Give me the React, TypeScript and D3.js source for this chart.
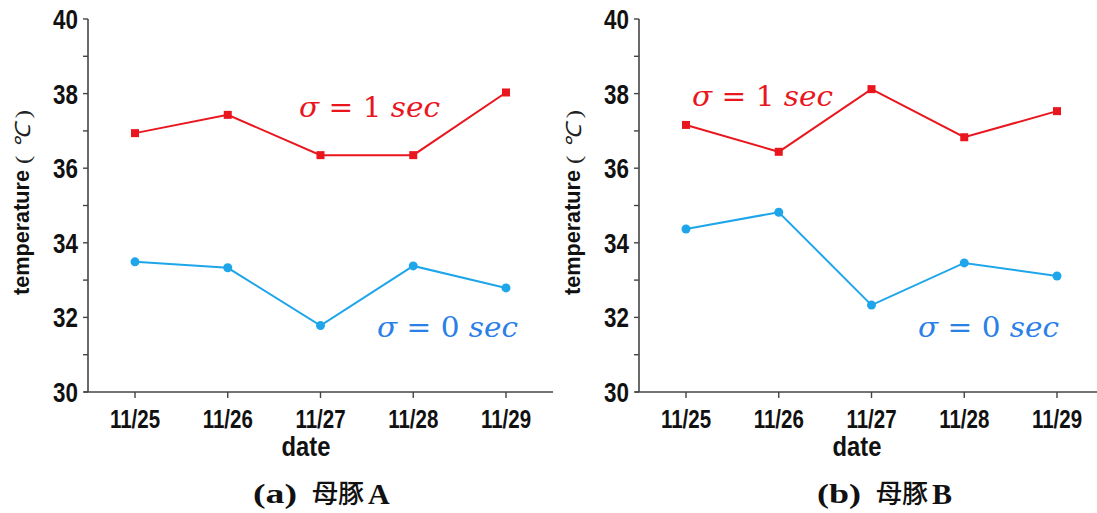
import { useEffect, useRef } from 'react';
import * as d3 from 'd3';

const dates = ['11/25', '11/26', '11/27', '11/28', '11/29'];
const yTicks = [30, 31, 32, 33, 34, 35, 36, 37, 38, 39, 40];

// 母豚 A
const sowA_sigma1 = [36.94, 37.43, 36.35, 36.35, 38.03];
const sowA_sigma0 = [33.49, 33.33, 31.78, 33.38, 32.79];
// 母豚 B
const sowB_sigma1 = [37.16, 36.44, 38.12, 36.83, 37.53];
const sowB_sigma0 = [34.37, 34.82, 32.33, 33.46, 33.11];

const captionTags = ['(a)', '(b)'];
const captionNames = ['母豚', '母豚'];
const captionLetters = ['A', 'B'];

const RED = '#e9161e';
const BLUE_LINE = '#1ea5ea';
const BLUE_TEXT = '#2b80e8';
const SANS = '"Liberation Sans", Arial, sans-serif';
const SERIF = '"Liberation Serif", "Times New Roman", serif';

function App() {
    const svgRef = useRef<SVGSVGElement>(null);

    useEffect(() => {
        if (!svgRef.current) return;
        const svg = d3.select(svgRef.current);
        svg.selectAll('*').remove();

        const panels = [
            { dx: 0, red: sowA_sigma1, blue: sowA_sigma0, redPos: [299, 117], bluePos: [377, 337], capX: 253, axisEnd: 553 },
            { dx: 551, red: sowB_sigma1, blue: sowB_sigma0, redPos: [141, 106], bluePos: [367, 337], capX: 266, axisEnd: 546 },
        ];

        const x = d3.scalePoint().domain(dates).range([135, 506]);
        const y = d3.scaleLinear().domain([30, 40]).range([392, 19]);
        const axisX = 88;

        panels.forEach((p, i) => {
            const g = svg.append('g').attr('transform', `translate(${p.dx},0)`);

            // y axis
            g.append('line')
                .attr('x1', axisX).attr('x2', axisX)
                .attr('y1', y(40)).attr('y2', y(30))
                .attr('stroke', '#444').attr('stroke-width', 1.6);
            g.selectAll('.ytick').data(yTicks).enter().append('line')
                .attr('x1', axisX - 5).attr('x2', axisX)
                .attr('y1', d => y(d)).attr('y2', d => y(d))
                .attr('stroke', '#444').attr('stroke-width', 1.4);
            g.selectAll('.ylab').data(yTicks.filter(d => d % 2 === 0)).enter().append('text')
                .attr('transform', d => `translate(${axisX - 10},${y(d) + 10}) scale(0.8,1)`)
                .attr('text-anchor', 'end')
                .attr('font-family', SANS)
                .attr('font-weight', 'bold')
                .attr('font-size', 28)
                .attr('fill', '#111')
                .text(d => d);

            // x axis
            g.append('line')
                .attr('x1', axisX - 4).attr('x2', p.axisEnd)
                .attr('y1', y(30)).attr('y2', y(30))
                .attr('stroke', '#444').attr('stroke-width', 1.6);
            g.selectAll('.xtick').data(dates).enter().append('line')
                .attr('x1', d => x(d)!).attr('x2', d => x(d)!)
                .attr('y1', y(30)).attr('y2', y(30) + 6)
                .attr('stroke', '#444').attr('stroke-width', 1.4);
            g.selectAll('.xlab').data(dates).enter().append('text')
                .attr('transform', d => `translate(${x(d)},428) scale(0.82,1)`)
                .attr('text-anchor', 'middle')
                .attr('font-family', SANS)
                .attr('font-weight', 'bold')
                .attr('font-size', 25)
                .attr('fill', '#111')
                .text(d => d);

            g.append('text')
                .attr('transform', 'translate(306,456) scale(0.88,1)')
                .attr('text-anchor', 'middle')
                .attr('font-family', SANS)
                .attr('font-weight', 'bold')
                .attr('font-size', 27)
                .attr('fill', '#111')
                .text('date');

            // y label
            g.append('text')
                .attr('transform', 'translate(29,295) rotate(-90)')
                .attr('font-family', SANS)
                .attr('font-weight', 'bold')
                .attr('font-size', 22)
                .attr('textLength', 125)
                .attr('lengthAdjust', 'spacingAndGlyphs')
                .attr('fill', '#111')
                .text('temperature');
            const unit = g.append('text')
                .attr('transform', 'translate(30,164) rotate(-90)')
                .attr('font-family', SERIF)
                .attr('font-size', 21)
                .attr('fill', '#222')
                .attr('textLength', 54)
                .attr('lengthAdjust', 'spacingAndGlyphs');
            unit.append('tspan').text('( ');
            unit.append('tspan').attr('font-style', 'italic').text('℃');
            unit.append('tspan').text(' )');

            // lines
            const line = d3.line<number>()
                .x((_, j) => x(dates[j])!)
                .y(d => y(d));

            g.append('path')
                .attr('d', line(p.red))
                .attr('fill', 'none')
                .attr('stroke', RED)
                .attr('stroke-width', 2);
            g.selectAll('.redpt').data(p.red).enter().append('rect')
                .attr('x', (_, j) => x(dates[j])! - 4)
                .attr('y', d => y(d) - 4)
                .attr('width', 8).attr('height', 8)
                .attr('fill', RED);

            g.append('path')
                .attr('d', line(p.blue))
                .attr('fill', 'none')
                .attr('stroke', BLUE_LINE)
                .attr('stroke-width', 2);
            g.selectAll('.bluept').data(p.blue).enter().append('circle')
                .attr('cx', (_, j) => x(dates[j])!)
                .attr('cy', d => y(d))
                .attr('r', 4.5)
                .attr('fill', BLUE_LINE);

            // annotations
            const ann = (pos: number[], num: string, color: string) => {
                const t = g.append('text')
                    .attr('x', pos[0]).attr('y', pos[1])
                    .attr('font-family', '"DejaVu Serif", serif')
                    .attr('font-size', 27)
                    .attr('fill', color)
                    .attr('textLength', 141)
                    .attr('lengthAdjust', 'spacingAndGlyphs');
                t.append('tspan').attr('font-style', 'italic').text('σ');
                t.append('tspan').text(` = ${num} `);
                t.append('tspan').attr('font-style', 'italic').text('sec');
            };
            ann(p.redPos, '1', RED);
            ann(p.bluePos, '0', BLUE_TEXT);

            // caption
            g.append('text')
                .attr('x', p.capX).attr('y', 503)
                .attr('font-family', SERIF)
                .attr('font-weight', 'bold')
                .attr('font-size', 27)
                .attr('fill', '#111')
                .attr('textLength', 44)
                .attr('lengthAdjust', 'spacingAndGlyphs')
                .text(captionTags[i]);
            g.append('text')
                .attr('x', p.capX + 59).attr('y', 503)
                .attr('font-family', '"Noto Sans CJK JP", sans-serif')
                .attr('font-weight', 500)
                .attr('font-size', 26)
                .attr('fill', '#111')
                .text(captionNames[i]);
            g.append('text')
                .attr('x', p.capX + 115).attr('y', 504)
                .attr('font-family', SERIF)
                .attr('font-weight', 'bold')
                .attr('font-size', 30)
                .attr('fill', '#111')
                .text(captionLetters[i]);
        });
    }, []);

    return (
        <div style={{ position: 'absolute', left: 0, top: 0 }}>
            <svg ref={svgRef} width={1097} height={513} style={{ display: 'block', background: '#fff' }}></svg>
        </div>
    );
}

export default App;
